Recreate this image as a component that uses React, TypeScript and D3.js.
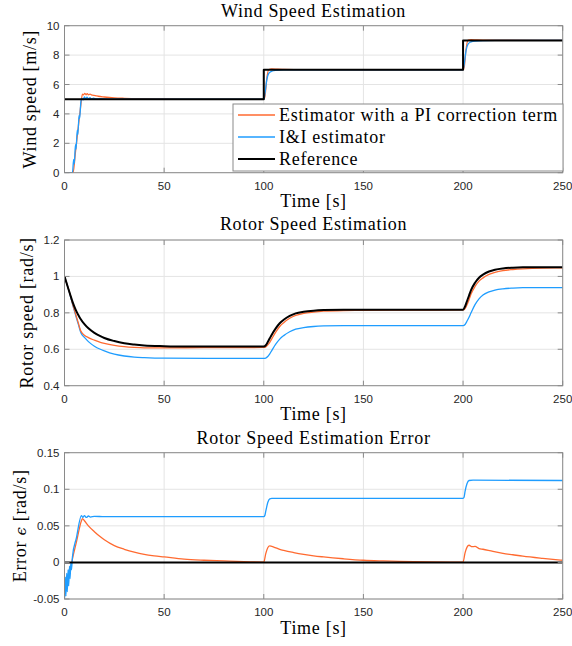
import React from 'react';
import * as d3 from 'd3';

type P = [number, number];

// ---------- data ----------
const timeTicks = [0, 50, 100, 150, 200, 250];
const windTicks = [0, 2, 4, 6, 8, 10];
const rotorTicks = [0.4, 0.6, 0.8, 1, 1.2];
const errorTicks = [-0.05, 0, 0.05, 0.1, 0.15];

const legendLabels = ['Estimator with a PI correction term', 'I&I estimator', 'Reference'];

// Wind speed [m/s]
const windRef: P[] = [[0, 5], [100, 5], [100, 7], [200, 7], [200, 9], [250, 9]];
const windPI: P[] = [
  [0, 0], [4.3, 0], [5.5, 1.4], [7, 3.2], [8.2, 4.6], [9, 5.35], [9.6, 5.3], [10.2, 5.4], [10.8, 5.3], [11.4, 5.38],
  [12, 5.3], [12.8, 5.34], [14, 5.27], [15.5, 5.25], [17, 5.2], [20, 5.15], [25, 5.09], [30, 5.06], [40, 5.03],
  [50, 5.015], [70, 5.005], [100, 5.0], [100.6, 5.2], [101.5, 6.4], [102.5, 7.02], [104, 7.06], [107, 7.04],
  [110, 7.03], [120, 7.01], [150, 7.0], [200, 7.0], [200.6, 7.2], [201.5, 8.4], [202.5, 9.02], [204, 9.05],
  [207, 9.03], [210, 9.02], [220, 9.01], [250, 9.0],
];
const windII: P[] = [
  [0, 0], [4.0, 0], [4.6, 0.9], [4.9, 0.6], [5.5, 1.9], [5.8, 1.6], [6.4, 2.9], [6.7, 2.6], [7.3, 3.9], [7.6, 3.7],
  [8.2, 4.8], [8.6, 5.05], [9.3, 4.95], [10, 5.15], [10.6, 5.02], [11.3, 5.14], [12, 5.03], [12.8, 5.1], [13.6, 5.02],
  [14.5, 5.07], [16, 5.02], [18, 5.03], [22, 5.01], [30, 5.0], [100, 5.0], [100.6, 5.4], [101.5, 6.3], [102.5, 6.75],
  [104, 6.9], [106, 6.96], [110, 6.99], [120, 7.0], [200, 7.0], [200.6, 7.4], [201.5, 8.3], [202.5, 8.75],
  [204, 8.9], [206, 8.96], [210, 8.99], [220, 9.0], [250, 9.0],
];

// Rotor speed [rad/s]
const rotorRef: P[] = [
  [0, 1.0], [1, 0.965], [2, 0.93], [3, 0.895], [4, 0.862], [5, 0.833], [6, 0.808], [7, 0.787], [8, 0.768],
  [10, 0.738], [12, 0.715], [15, 0.69], [18, 0.672], [20, 0.662], [25, 0.645], [30, 0.633], [35, 0.626],
  [40, 0.621], [50, 0.617], [60, 0.615], [100, 0.615], [101, 0.622], [102, 0.64], [103, 0.66], [104, 0.68],
  [106, 0.715], [108, 0.743], [110, 0.762], [113, 0.783], [116, 0.797], [120, 0.806], [125, 0.812], [130, 0.815],
  [140, 0.817], [200, 0.817], [201, 0.835], [202, 0.865], [203, 0.895], [204, 0.925], [206, 0.965], [208, 0.993],
  [210, 1.01], [213, 1.027], [216, 1.037], [220, 1.044], [225, 1.048], [230, 1.05], [250, 1.05],
];
const rotorPI: P[] = [
  [0, 1.0], [1, 0.965], [2, 0.93], [3, 0.893], [4, 0.852], [5, 0.815], [6, 0.778], [7, 0.742], [8, 0.705],
  [8.8, 0.69], [10, 0.677], [12, 0.664], [15, 0.65], [18, 0.638], [20, 0.632], [25, 0.621], [30, 0.614],
  [35, 0.61], [40, 0.608], [50, 0.608], [70, 0.609], [100, 0.61], [101, 0.613], [102, 0.624], [103, 0.638],
  [104, 0.657], [106, 0.694], [108, 0.725], [110, 0.746], [113, 0.77], [116, 0.786], [120, 0.797], [125, 0.804],
  [130, 0.809], [140, 0.813], [150, 0.814], [175, 0.815], [200, 0.816], [201, 0.823], [202, 0.845], [203, 0.872],
  [204, 0.903], [206, 0.945], [208, 0.974], [210, 0.992], [213, 1.011], [216, 1.022], [220, 1.032], [225, 1.038],
  [230, 1.042], [240, 1.046], [250, 1.047],
];
const rotorII: P[] = [
  [0, 1.0], [1, 0.965], [2, 0.93], [3, 0.89], [4, 0.848], [5, 0.81], [6, 0.772], [7, 0.735], [8, 0.698],
  [8.6, 0.683], [10, 0.665], [12, 0.642], [15, 0.617], [18, 0.6], [20, 0.591], [25, 0.573], [30, 0.563],
  [35, 0.557], [40, 0.554], [50, 0.551], [100, 0.55], [101, 0.552], [102, 0.56], [103, 0.575], [104, 0.593],
  [106, 0.628], [108, 0.656], [110, 0.675], [113, 0.696], [116, 0.71], [120, 0.719], [125, 0.725], [130, 0.728],
  [140, 0.73], [200, 0.73], [201, 0.736], [202, 0.755], [203, 0.776], [204, 0.8], [206, 0.845], [208, 0.877],
  [210, 0.898], [213, 0.915], [216, 0.925], [220, 0.932], [225, 0.936], [230, 0.938], [250, 0.938],
];

// Rotor speed estimation error [rad/s]
const errRef: P[] = [[0, 0], [250, 0]];
const errPI: P[] = [
  [0, -0.04], [1, -0.03], [2, -0.02], [3, -0.008], [4, 0.005], [6, 0.028], [8.5, 0.057], [9, 0.06], [10, 0.057],
  [12, 0.05], [15, 0.042], [18, 0.035], [20, 0.031], [25, 0.023], [30, 0.018], [35, 0.014], [40, 0.011],
  [45, 0.009], [50, 0.0075], [60, 0.0045], [70, 0.003], [80, 0.002], [90, 0.001], [100, 0.0005], [101, 0.012],
  [102, 0.02], [103, 0.0225], [105, 0.021], [108, 0.018], [110, 0.0165], [115, 0.0135], [120, 0.011], [125, 0.009],
  [130, 0.0075], [140, 0.005], [150, 0.003], [160, 0.002], [175, 0.001], [200, 0.0005], [201, 0.013], [202, 0.021],
  [203, 0.0235], [204.5, 0.0215], [206, 0.022], [208, 0.019], [210, 0.018], [215, 0.015], [220, 0.0125],
  [225, 0.0105], [230, 0.0085], [240, 0.0055], [250, 0.003],
];
const errII: P[] = [
  [0, -0.05], [0.4, -0.02], [0.7, -0.046], [1.1, -0.015], [1.4, -0.04], [1.8, -0.01], [2.1, -0.032], [2.5, -0.005],
  [2.8, -0.022], [3.2, 0.0], [3.5, -0.01], [4, 0.008], [6, 0.034], [8.5, 0.064], [9.2, 0.0615], [10, 0.064],
  [11, 0.0615], [12, 0.0635], [13, 0.062], [15, 0.063], [20, 0.0625], [100, 0.0625], [100.5, 0.064], [101, 0.07],
  [102, 0.082], [103, 0.087], [104, 0.0875], [200, 0.0875], [200.5, 0.089], [201, 0.097], [202, 0.108],
  [203, 0.112], [205, 0.1125], [250, 0.112],
];

// ---------- styling ----------
const ORANGE = '#ff6a30';
const BLUE = '#1f9dff';
const BLACK = '#000000';
const FRAME = '#8a8a8a';
const GRID = '#e4e4e4';
const SERIF = '"Liberation Serif", "DejaVu Serif", serif';
const SANS = '"Liberation Sans", Arial, sans-serif';

const X0 = 64.5;
const X1 = 562.7;
const xScale = d3.scaleLinear().domain([0, 250]).range([X0, X1]);

type Series = { data: P[]; color: string; width: number; linear?: boolean };

function fmtTick(v: number) {
  return String(+v.toFixed(3));
}

function Panel(props: {
  id: string;
  top: number;
  bottom: number;
  domain: [number, number];
  ticks: number[];
  title: string;
  titleY: number;
  ylabel: React.ReactNode;
  ylabelX: number;
  series: Series[];
  legend?: boolean;
}) {
  const { id, top, bottom, domain, ticks, title, titleY, ylabel, ylabelX, series, legend } = props;
  const y = d3.scaleLinear().domain(domain).range([bottom, top]);
  const tl = 5;
  const cx = (X0 + X1) / 2;
  const cy = (top + bottom) / 2;
  return (
    <g>
      <defs>
        <clipPath id={id}>
          <rect x={X0} y={top} width={X1 - X0} height={bottom - top} />
        </clipPath>
      </defs>
      <rect x={X0} y={top} width={X1 - X0} height={bottom - top} fill="#fff" />
      {timeTicks.map((t) => (
        <line key={'gx' + t} x1={xScale(t)} x2={xScale(t)} y1={top} y2={bottom} stroke={GRID} strokeWidth={1} />
      ))}
      {ticks.map((v) => (
        <line key={'gy' + v} x1={X0} x2={X1} y1={y(v)} y2={y(v)} stroke={GRID} strokeWidth={1} />
      ))}
      <g clipPath={`url(#${id})`}>
        {series.map((s, i) => {
          const gen = d3
            .line<P>()
            .x((d) => xScale(d[0]))
            .y((d) => y(d[1]))
            .curve(s.linear ? d3.curveLinear : d3.curveMonotoneX);
          return (
            <path key={i} d={gen(s.data) || ''} fill="none" stroke={s.color} strokeWidth={s.width}
              strokeLinejoin="round" strokeLinecap="butt" />
          );
        })}
      </g>
      <rect x={X0} y={top} width={X1 - X0} height={bottom - top} fill="none" stroke={FRAME} strokeWidth={1} />
      {timeTicks.map((t) => (
        <g key={'tx' + t}>
          <line x1={xScale(t)} x2={xScale(t)} y1={bottom} y2={bottom - tl} stroke={FRAME} />
          <line x1={xScale(t)} x2={xScale(t)} y1={top} y2={top + tl} stroke={FRAME} />
          <text x={xScale(t)} y={bottom + 17.3} textAnchor="middle" fontFamily={SANS} fontSize={11.5} fill="#262626">
            {t}
          </text>
        </g>
      ))}
      {ticks.map((v) => (
        <g key={'ty' + v}>
          <line x1={X0} x2={X0 + tl} y1={y(v)} y2={y(v)} stroke={FRAME} />
          <line x1={X1} x2={X1 - tl} y1={y(v)} y2={y(v)} stroke={FRAME} />
          <text x={X0 - 5} y={y(v) + 4} textAnchor="end" fontFamily={SANS} fontSize={11.5} fill="#262626">
            {fmtTick(v)}
          </text>
        </g>
      ))}
      <text x={cx} y={titleY} textAnchor="middle" fontFamily={SERIF} fontSize={18} letterSpacing={0.7} fill="#000">
        {title}
      </text>
      <text x={cx} y={bottom + 34.5} textAnchor="middle" fontFamily={SERIF} fontSize={18} letterSpacing={0.7} fill="#000">
        Time [s]
      </text>
      <text transform={`translate(${ylabelX},${cy}) rotate(-90)`} textAnchor="middle" fontFamily={SERIF}
        fontSize={18} letterSpacing={0.7} fill="#000">
        {ylabel}
      </text>
      {legend && (
        <g>
          <rect x={233} y={104} width={330} height={67} fill="#fff" stroke={FRAME} strokeWidth={1} />
          {legendLabels.map((lab, i) => {
            const ly = 115 + i * 22;
            const col = [ORANGE, BLUE, BLACK][i];
            const w = [1.3, 1.3, 2][i];
            return (
              <g key={lab}>
                <line x1={238} x2={275} y1={ly} y2={ly} stroke={col} strokeWidth={w} />
                <text x={279} y={ly + 5.5} fontFamily={SERIF} fontSize={18} letterSpacing={0.7} fill="#000">
                  {lab}
                </text>
              </g>
            );
          })}
        </g>
      )}
    </g>
  );
}

export default function App() {
  return (
    <svg width={572} height={646} viewBox="0 0 572 646"
      style={{ position: 'absolute', left: 0, top: 0, display: 'block', background: '#fff' }}>
      <rect x={0} y={0} width={572} height={646} fill="#fff" />
      <Panel
        id="c1" top={25.7} bottom={172.7} domain={[0, 10]} ticks={windTicks}
        title="Wind Speed Estimation" titleY={16.5}
        ylabel="Wind speed [m/s]" ylabelX={36}
        series={[
          { data: windPI, color: ORANGE, width: 1.3 },
          { data: windII, color: BLUE, width: 1.3 },
          { data: windRef, color: BLACK, width: 2, linear: true },
        ]}
        legend
      />
      <Panel
        id="c2" top={240} bottom={385.7} domain={[0.4, 1.2]} ticks={rotorTicks}
        title="Rotor Speed Estimation" titleY={229.5}
        ylabel="Rotor speed [rad/s]" ylabelX={33}
        series={[
          { data: rotorII, color: BLUE, width: 1.3 },
          { data: rotorPI, color: ORANGE, width: 1.3 },
          { data: rotorRef, color: BLACK, width: 2 },
        ]}
      />
      <Panel
        id="c3" top={452.7} bottom={599} domain={[-0.05, 0.15]} ticks={errorTicks}
        title="Rotor Speed Estimation Error" titleY={443.5}
        ylabel={<>Error <tspan fontStyle="italic" fontFamily='"DejaVu Serif", serif' fontSize={15}>ϵ</tspan> [rad/s]</>}
        ylabelX={25.5}
        series={[
          { data: errPI, color: ORANGE, width: 1.3 },
          { data: errII, color: BLUE, width: 1.3 },
          { data: errRef, color: BLACK, width: 2, linear: true },
        ]}
      />
    </svg>
  );
}
